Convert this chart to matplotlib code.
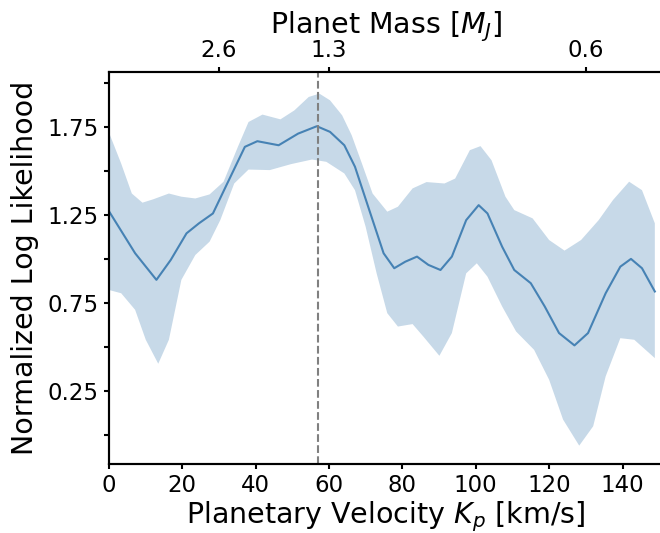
import matplotlib.pyplot as plt
import numpy as np

# mean normalized log likelihood vs Kp
kp_mean = [0, 7.2, 13, 16.9, 21.2, 24.6, 28.4, 32.3, 37.1, 40.5, 46.3, 51.6, 56.7,
           60.3, 64.2, 67.1, 71.0, 74.9, 77.8, 80.8, 84.0, 87.1, 90.4, 93.5, 97.4,
           100.8, 103.2, 107.2, 110.5, 115.0, 118.8, 122.7, 126.9, 130.6, 135.4,
           139.4, 142.3, 145.3, 148.8]
ll_mean = [1.274, 1.033, 0.882, 0.995, 1.146, 1.203, 1.259, 1.429, 1.637, 1.669, 1.646,
           1.712, 1.754, 1.722, 1.646, 1.524, 1.278, 1.033, 0.948, 0.985, 1.014, 0.967,
           0.938, 1.014, 1.221, 1.306, 1.259, 1.070, 0.938, 0.863, 0.731, 0.580, 0.510,
           0.580, 0.806, 0.957, 1.001, 0.948, 0.816]

# upper edge of the band
kp_hi = [0, 3.4, 6.3, 9.2, 12.1, 16.4, 19.8, 23.6, 27.5, 31.3, 35.2, 38.1, 41.9, 46.8,
         50.6, 54.5, 57.4, 60.3, 63.6, 66.2, 69.0, 71.9, 75.9, 78.8, 82.8, 86.6, 91.5,
         94.4, 98.4, 101.3, 104.3, 108.1, 110.5, 115.5, 120.0, 124.2, 128.7, 133.5,
         137.4, 141.8, 145.3, 148.8]
ll_hi = [1.722, 1.542, 1.372, 1.320, 1.339, 1.372, 1.354, 1.344, 1.367, 1.439, 1.637,
         1.778, 1.820, 1.793, 1.844, 1.920, 1.939, 1.901, 1.816, 1.703, 1.542, 1.372,
         1.269, 1.297, 1.401, 1.437, 1.429, 1.457, 1.618, 1.641, 1.561, 1.354, 1.278,
         1.231, 1.108, 1.048, 1.108, 1.221, 1.335, 1.439, 1.391, 1.203]

# lower edge of the band
kp_lo = [0, 3.4, 7.2, 10.1, 13.5, 16.4, 19.8, 23.6, 27.5, 30.4, 34.2, 38.1, 43.9, 49.7,
         55.4, 59.3, 64.2, 67.1, 70.0, 73.0, 75.9, 78.8, 82.8, 85.7, 90.1, 93.5, 97.4,
         100.3, 103.2, 107.2, 111.0, 115.9, 120.0, 123.8, 128.2, 132.0, 135.4, 139.4,
         143.2, 148.8]
ll_lo = [0.825, 0.806, 0.712, 0.542, 0.406, 0.542, 0.882, 1.023, 1.099, 1.221, 1.429,
         1.508, 1.505, 1.539, 1.565, 1.552, 1.486, 1.391, 1.184, 0.919, 0.693, 0.617,
         0.631, 0.561, 0.451, 0.580, 0.919, 0.976, 0.900, 0.731, 0.589, 0.485, 0.315,
         0.089, -0.059, 0.051, 0.334, 0.551, 0.542, 0.438]

kp_best = 57.0

mass_ticks_kp = [30, 60, 130]
mass_labels = ["2.6", "1.3", "0.6"]

plt.rcParams["font.size"] = 16.5
plt.rcParams["axes.linewidth"] = 1.5
plt.rcParams["xtick.major.width"] = 1.5
plt.rcParams["ytick.major.width"] = 1.5

fig = plt.figure(figsize=(6.6, 5.33), dpi=100)
ax = fig.add_axes([0.1647, 0.1295, 0.8397, 0.7355])

band_x = np.concatenate([kp_hi, kp_lo[::-1]])
band_y = np.concatenate([ll_hi, ll_lo[::-1]])
ax.fill(band_x, band_y, color="steelblue", alpha=0.3, linewidth=0)
ax.plot(kp_mean, ll_mean, color="steelblue", linewidth=1.5)
ax.axvline(kp_best, color="gray", linestyle="--", linewidth=1.5)

ax.set_xlim(0, 151)
ax.set_ylim(-0.163, 2.062)
ax.set_xticks([0, 20, 40, 60, 80, 100, 120, 140])
yt = np.arange(0, 2.01, 0.25)
ax.set_yticks(yt)
ax.set_yticklabels(["" if i % 2 == 0 else f"{v:.2f}" for i, v in enumerate(yt)])
ax.set_xlabel("Planetary Velocity $K_p$ [km/s]", fontsize=20.5, labelpad=2)
ax.set_ylabel("Normalized Log Likelihood", fontsize=20.5, labelpad=6)
ax.spines["right"].set_visible(False)

ax2 = ax.twiny()
ax2.set_xlim(ax.get_xlim())
ax2.set_xticks(mass_ticks_kp)
ax2.set_xticklabels(mass_labels)
ax2.set_xlabel("Planet Mass [$M_J$]", fontsize=20.5, labelpad=4)
ax2.spines["right"].set_visible(False)

fig.savefig("out.png", dpi=100)
